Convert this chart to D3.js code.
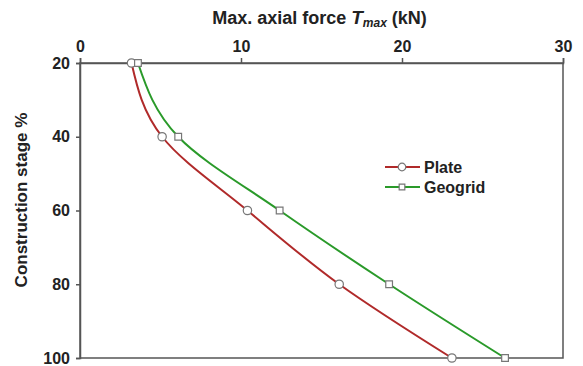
<!DOCTYPE html>
<meta charset="utf-8">
<style>
  body { margin: 0; background: #fff; }
  text { font-family: "Liberation Sans", Arial, sans-serif; font-weight: bold; fill: #222; }
  .domain, .tick line { stroke: #555; stroke-width: 1.5px; }
  .line { fill: none; stroke-width: 2px; }
</style>
<body>
<script src="https://cdn.jsdelivr.net/npm/d3@7"></script>
<script>
  var stages = [20, 40, 60, 80, 100];
  var plate = [3.2, 5.1, 10.4, 16.1, 23.1];
  var geogrid = [3.6, 6.1, 12.4, 19.2, 26.4];
  var xTicks = [0, 10, 20, 30];
  var yTicks = [20, 40, 60, 80, 100];

  var margin = { top: 63, right: 20, bottom: 8, left: 80 };

  var svg = d3.select("body").append("svg")
    .attr("width", 583)
    .attr("height", 366)
    .append("g")
    .attr("transform", "translate(" + margin.left + "," + margin.top + ")");

  var x = d3.scaleLinear().domain([0, 30]).range([0, 483]);
  var y = d3.scaleLinear().domain([20, 100]).range([0, 295]);

  // frame
  svg.append("rect")
    .attr("width", x(30)).attr("height", y(100))
    .attr("fill", "none").attr("stroke", "#555").attr("stroke-width", 1.5);

  svg.append("g")
    .call(d3.axisTop(x).tickValues(xTicks).tickSize(5).tickPadding(6))
    .selectAll("text").style("font-size", "16px");

  svg.append("g")
    .call(d3.axisLeft(y).tickValues(yTicks).tickSize(4).tickPadding(6))
    .selectAll("text").style("font-size", "16px");

  // titles
  var title = svg.append("text")
    .attr("x", x(15) - 2).attr("y", -39)
    .attr("text-anchor", "middle")
    .style("font-size", "18px");
  title.append("tspan").text("Max. axial force ");
  title.append("tspan").attr("font-style", "italic").style("font-size", "19px").text("T");
  title.append("tspan").attr("font-style", "italic").style("font-size", "12px").attr("dy", 3).text("max");
  title.append("tspan").attr("dy", -3).text(" (kN)");

  svg.append("text")
    .attr("transform", "translate(-53,137) rotate(-90)")
    .attr("text-anchor", "middle")
    .style("font-size", "17px")
    .text("Construction stage %");

  var series = [
    { name: "Plate", values: plate, color: "#b02a2a", shape: "circle" },
    { name: "Geogrid", values: geogrid, color: "#2a9a2a", shape: "square" }
  ];

  var line = d3.line()
    .x(d => x(d[0]))
    .y(d => y(d[1]))
    .curve(d3.curveMonotoneY);

  series.forEach(function (s) {
    var pts = stages.map((st, i) => [s.values[i], st]);
    svg.append("path").datum(pts)
      .attr("class", "line")
      .attr("stroke", s.color)
      .attr("d", line);
    var sym = d3.symbol().type(s.shape === "circle" ? d3.symbolCircle : d3.symbolSquare)
      .size(s.shape === "circle" ? 55 : 45);
    svg.selectAll(null).data(pts).enter().append("path")
      .attr("d", sym)
      .attr("transform", d => "translate(" + x(d[0]) + "," + y(d[1]) + ")")
      .attr("fill", "#fff").attr("stroke", "#777").attr("stroke-width", 1.2);
  });

  // legend
  var legend = svg.append("g").attr("transform", "translate(305,104)");
  series.forEach(function (s, i) {
    var g = legend.append("g").attr("transform", "translate(0," + i * 20 + ")");
    g.append("line").attr("x1", 0).attr("x2", 35).attr("stroke", s.color).attr("stroke-width", 2);
    var sym = d3.symbol().type(s.shape === "circle" ? d3.symbolCircle : d3.symbolSquare)
      .size(s.shape === "circle" ? 45 : 32);
    g.append("path").attr("d", sym).attr("transform", "translate(17,0)")
      .attr("fill", "#fff").attr("stroke", "#777").attr("stroke-width", 1.2);
    g.append("text").attr("x", 39).attr("dy", "0.35em").style("font-size", "16px").text(s.name);
  });
</script>
</body>
